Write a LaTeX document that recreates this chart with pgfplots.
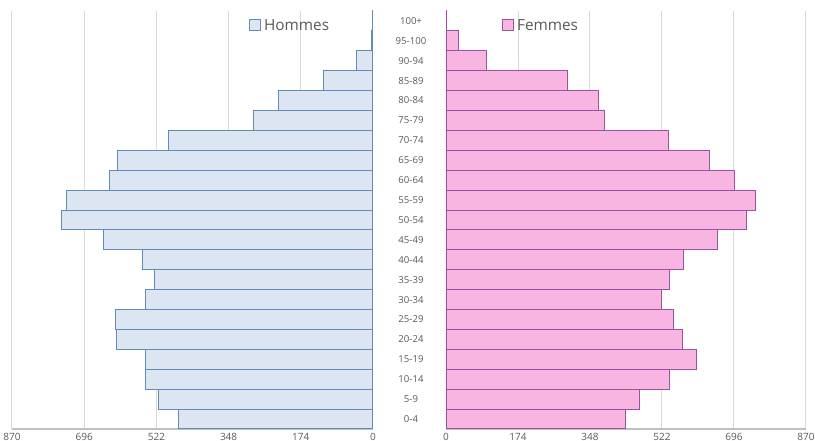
\documentclass[border=0pt]{standalone}
\usepackage{fontspec}
\setmainfont{Open Sans}
\usepackage{pgfplots}
\pgfplotsset{compat=1.18}

\definecolor{hfill}{RGB}{220,230,243}
\definecolor{hedge}{RGB}{99,139,186}
\definecolor{ffill}{RGB}{248,181,225}
\definecolor{fedge}{RGB}{158,80,165}
\definecolor{txt}{RGB}{89,89,89}
\definecolor{gridc}{RGB}{217,217,217}
\definecolor{axisc}{RGB}{191,191,191}

\pgfplotsset{
  pyr/.style={
    xbar, scale only axis,
    height=313.5pt,
    xmin=0, xmax=870, ymin=-0.5, ymax=20.5,
    bar width=1, bar shift=0pt,
    enlargelimits=false,
    xtick={0,174,348,522,696,870},
    xmajorgrids, grid style={gridc, line width=0.75pt},
    axis x line*=bottom,
    x axis line style={axisc, line width=2.2pt},
    major tick length=0pt,
    /pgf/number format/assume math mode=true,
    tick label style={font=\fontsize{7.5}{9}\selectfont, text=txt},
    xticklabel style={yshift=0.5pt},
    legend style={draw=none, fill=none, inner sep=0pt,
      font=\fontsize{11.5}{13}\selectfont, text=txt},
    legend image code/.code={\draw[#1, line width=0.75pt] (0pt,-4pt) rectangle (8.25pt,4.25pt);},
  },
}

\begin{document}
\begin{tikzpicture}
% Hommes
\begin{axis}[pyr, name=L,
    at={(9pt,9pt)}, anchor=south west, width=270.75pt,
    x dir=reverse, axis y line=none,
    legend style={at={(axis description cs:0.657,0.965)}, anchor=west},
]
\addplot[fill=hfill, draw=hedge, line width=0.75pt] coordinates {
  (469,0) (517,1) (548,2) (548,3) (619,4) (621,5) (548,6) (527,7)
  (556,8) (649,9) (751,10) (739,11) (635,12) (616,13) (493,14)
  (287,15) (227,16) (119,17) (40,18) (4,19) (2,20)
};
\legend{Hommes}
\end{axis}
% Femmes
\begin{axis}[pyr, name=R,
    at={(334.5pt,9pt)}, anchor=south west, width=270pt,
    ytick={0,...,20},
    yticklabels={0-4,5-9,10-14,15-19,20-24,25-29,30-34,35-39,40-44,45-49,
      50-54,55-59,60-64,65-69,70-74,75-79,80-84,85-89,90-94,95-100,100+},
    axis y line*=left, y axis line style={draw=none},
    yticklabel style={anchor=center, xshift=-26.25pt, font=\fontsize{7.2}{8}\selectfont},
    legend style={at={(axis description cs:0.156,0.965)}, anchor=west},
]
\addplot[fill=ffill, draw=fedge, line width=0.75pt] coordinates {
  (435,0) (468,1) (539,2) (605,3) (572,4) (550,5) (521,6) (539,7)
  (574,8) (656,9) (726,10) (747,11) (698,12) (638,13) (538,14)
  (382,15) (369,16) (294,17) (99,18) (30,19) (1,20)
};
\legend{Femmes}
\end{axis}
\pgfresetboundingbox
\path[use as bounding box] (0,0) rectangle (611.25pt,330.75pt);
\end{tikzpicture}
\end{document}
